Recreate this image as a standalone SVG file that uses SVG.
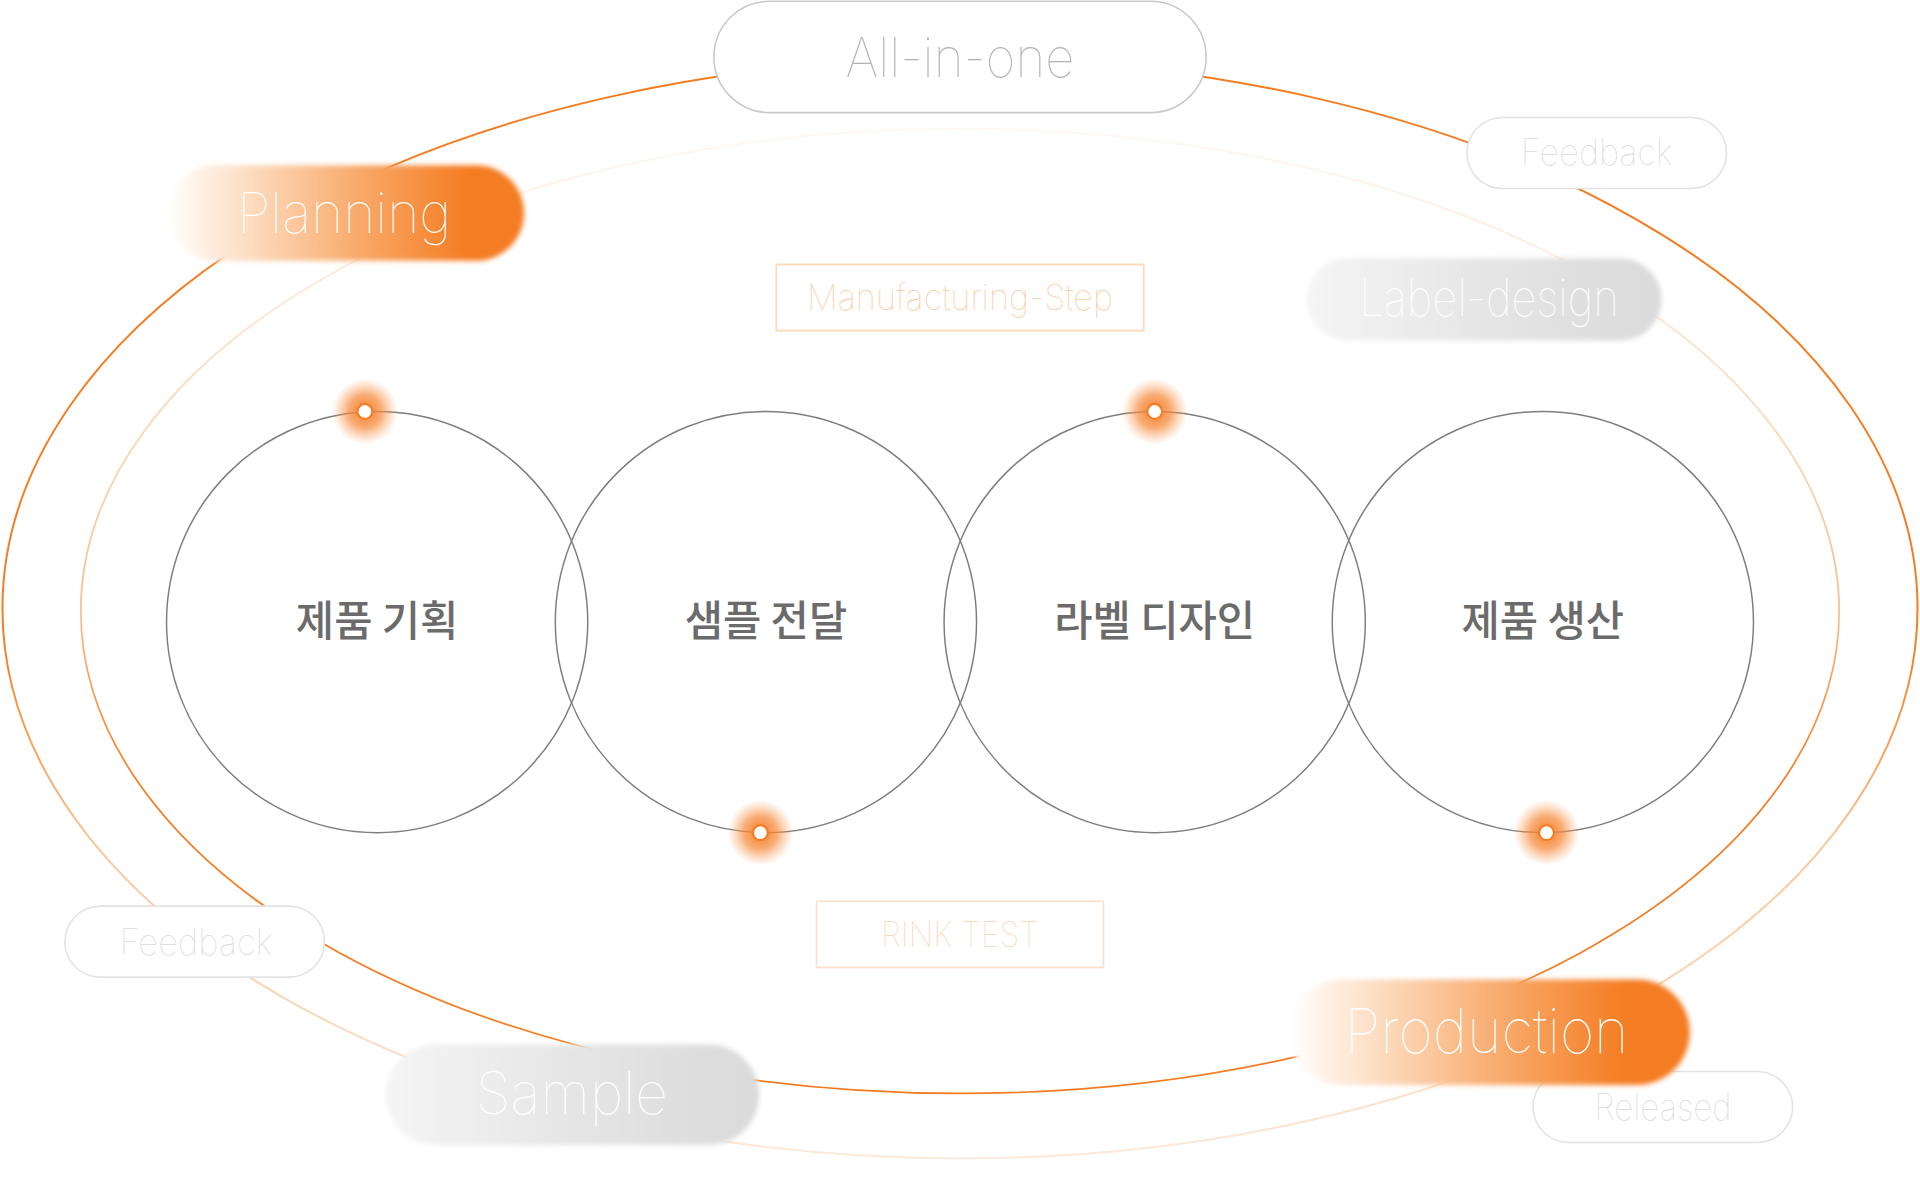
<svg xmlns="http://www.w3.org/2000/svg" width="1920" height="1200" viewBox="0 0 1920 1200">
<defs>
<style>
.thin{font-family:Inter,Roboto,Lato,"Liberation Sans",sans-serif;font-weight:100;text-anchor:middle}
.kr{font-family:"Noto Sans CJK KR","Noto Sans",sans-serif;font-weight:500;font-size:34px;fill:#6b6b6b;text-anchor:middle}
.outline{fill:#ffffff;stroke:#e3e3e3;stroke-width:1.3}
.circle{fill:none;stroke:#7d7d7d;stroke-width:1.2}
.dot{fill:#ffffff;stroke:#f47b20;stroke-width:1.6}
.step{fill:#ffffff;stroke:#fdd9ba;stroke-width:1.5}
</style>
<linearGradient id="gE1" gradientUnits="userSpaceOnUse" x1="0" y1="48" x2="0" y2="946">
<stop offset="0" stop-color="#f47b20"/>
<stop offset="0.52" stop-color="#f47b20"/>
<stop offset="0.72" stop-color="#fbc596"/>
<stop offset="1" stop-color="#fde8d8"/>
</linearGradient>
<linearGradient id="gE2" gradientUnits="userSpaceOnUse" x1="0" y1="105" x2="0" y2="893">
<stop offset="0" stop-color="#fff8f2"/>
<stop offset="0.2" stop-color="#fde3cd"/>
<stop offset="0.5" stop-color="#f9bd8a"/>
<stop offset="0.68" stop-color="#f47b20"/>
<stop offset="1" stop-color="#f47b20"/>
</linearGradient>
<linearGradient id="gOrange" x1="0" y1="0" x2="1" y2="0">
<stop offset="0" stop-color="#ffffff"/>
<stop offset="0.2" stop-color="#fde0c8"/>
<stop offset="0.55" stop-color="#f8a766"/>
<stop offset="0.85" stop-color="#f47b20"/>
<stop offset="1" stop-color="#f47b20"/>
</linearGradient>
<linearGradient id="gGray" x1="0" y1="0" x2="1" y2="0">
<stop offset="0" stop-color="#f5f5f5"/>
<stop offset="0.5" stop-color="#e5e5e5"/>
<stop offset="1" stop-color="#dadada"/>
</linearGradient>
<radialGradient id="gGlow">
<stop offset="0" stop-color="#f47b20" stop-opacity="1"/>
<stop offset="0.5" stop-color="#f6893a" stop-opacity="0.7"/>
<stop offset="1" stop-color="#f9a460" stop-opacity="0"/>
</radialGradient>
<filter id="soft" x="-10%" y="-20%" width="120%" height="140%">
<feGaussianBlur stdDeviation="2.2"/>
</filter>
</defs>
<rect x="0" y="0" width="1920" height="1200" fill="#ffffff"/>
<g transform="scale(1.2244898)">
<g id="connectors">
<ellipse cx="784" cy="497" rx="782" ry="449" fill="none" stroke="url(#gE1)" stroke-width="1.6"/>
<ellipse cx="784" cy="499" rx="718" ry="394" fill="none" stroke="url(#gE2)" stroke-width="1.4"/>
</g>

<g id="all-in-one">
<rect x="583" y="1" width="402" height="91" rx="45.5" fill="#ffffff" stroke="#c9c9c9" stroke-width="1.3"/>
<text class="thin" x="784" y="63" font-size="45" fill="#b3b3b3" textLength="187" lengthAdjust="spacingAndGlyphs">All-in-one</text>
</g>

<g id="feedback-top">
<rect class="outline" x="1198" y="96" width="212" height="58" rx="29"/>
<text class="thin" x="1304" y="135" font-size="30" fill="#dadada" textLength="124" lengthAdjust="spacingAndGlyphs">Feedback</text>
</g>

<g id="planning">
<rect x="137" y="135" width="291" height="78" rx="39" fill="url(#gOrange)" filter="url(#soft)"/>
<text class="thin" x="281" y="190" font-size="46" fill="#ffffff" textLength="175" lengthAdjust="spacingAndGlyphs">Planning</text>
</g>

<g id="manufacturing-step">
<rect class="step" x="634" y="216" width="300" height="54"/>
<text class="thin" x="784" y="253" font-size="29" fill="#fcc9a0" textLength="250" lengthAdjust="spacingAndGlyphs">Manufacturing-Step</text>
</g>

<g id="label-design">
<rect x="1067" y="211" width="290" height="67" rx="33.5" fill="url(#gGray)" filter="url(#soft)"/>
<text class="thin" x="1216" y="258" font-size="42" fill="#ffffff" textLength="212" lengthAdjust="spacingAndGlyphs">Label-design</text>
</g>

<g id="step-1">
<circle class="circle" cx="308" cy="508" r="172"/>
<text class="kr" x="308" y="519">제품 기획</text>
</g>
<g id="step-2">
<circle class="circle" cx="625.5" cy="508" r="172"/>
<text class="kr" x="625.5" y="519">샘플 전달</text>
</g>
<g id="step-3">
<circle class="circle" cx="943" cy="508" r="172"/>
<text class="kr" x="943" y="519">라벨 디자인</text>
</g>
<g id="step-4">
<circle class="circle" cx="1260" cy="508" r="172"/>
<text class="kr" x="1260" y="519">제품 생산</text>
</g>

<g id="dots">
<circle cx="298" cy="336" r="27" fill="url(#gGlow)"/>
<circle class="dot" cx="298" cy="336" r="6"/>
<circle cx="621" cy="680" r="27" fill="url(#gGlow)"/>
<circle class="dot" cx="621" cy="680" r="6"/>
<circle cx="943" cy="336" r="27" fill="url(#gGlow)"/>
<circle class="dot" cx="943" cy="336" r="6"/>
<circle cx="1263" cy="680" r="27" fill="url(#gGlow)"/>
<circle class="dot" cx="1263" cy="680" r="6"/>
</g>

<g id="rink-test">
<rect x="667" y="736" width="234" height="54" fill="#ffffff" stroke="#fde3cf" stroke-width="1.5"/>
<text class="thin" x="784" y="773" font-size="29" fill="#fcd3b0" textLength="129" lengthAdjust="spacingAndGlyphs">RINK TEST</text>
</g>

<g id="feedback-left">
<rect class="outline" x="53" y="740" width="212" height="58" rx="29"/>
<text class="thin" x="160" y="780" font-size="30" fill="#dadada" textLength="125" lengthAdjust="spacingAndGlyphs">Feedback</text>
</g>

<g id="sample">
<rect x="315" y="853" width="305" height="82" rx="41" fill="url(#gGray)" filter="url(#soft)"/>
<text class="thin" x="467" y="910" font-size="48" fill="#ffffff" textLength="157" lengthAdjust="spacingAndGlyphs">Sample</text>
</g>

<g id="released">
<rect class="outline" x="1252" y="875" width="212" height="58" rx="29"/>
<text class="thin" x="1358" y="915" font-size="30" fill="#dadada" textLength="112" lengthAdjust="spacingAndGlyphs">Released</text>
</g>

<g id="production">
<rect x="1053" y="800" width="327" height="86" rx="43" fill="url(#gOrange)" filter="url(#soft)"/>
<text class="thin" x="1214" y="860" font-size="50" fill="#ffffff" textLength="232" lengthAdjust="spacingAndGlyphs">Production</text>
</g>
</g>
</svg>
